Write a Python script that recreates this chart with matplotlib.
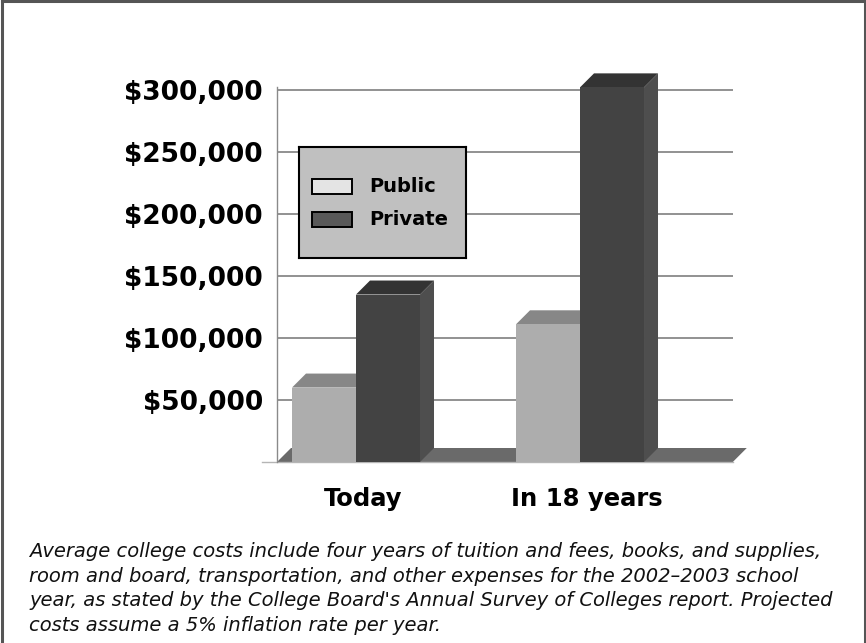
import matplotlib
matplotlib.use('Agg')
import matplotlib.pyplot as plt
from matplotlib.patches import Polygon, Rectangle
from matplotlib.lines import Line2D

categories = ['Today', 'In 18 years']
series_names = ['Public', 'Private']
public_cost = [60000, 111000]
private_cost = [135000, 302000]
tick_values = [50000, 100000, 150000, 200000, 250000, 300000]
tick_labels = ['$50,000', '$100,000', '$150,000', '$200,000', '$250,000', '$300,000']
caption = ("Average college costs include four years of tuition and fees, books, and supplies,\n"
           "room and board, transportation, and other expenses for the 2002\u20132003 school\n"
           "year, as stated by the College Board's Annual Survey of Colleges report. Projected\n"
           "costs assume a 5% inflation rate per year.")

# face colours: front, top, side
face_colors = {
    'Public': ('#adadad', '#878787', '#9a9a9a'),
    'Private': ('#434343', '#333333', '#4e4e4e'),
}
legend_colors = {'Public': '#e4e4e4', 'Private': '#595959'}

W, H = 866, 643
fig = plt.figure(figsize=(W / 100, H / 100), dpi=100)
fig.patch.set_facecolor('white')

# axes box in pixels
ax_left, ax_right, ax_bottom, ax_top = 277, 733, 462, 70
ax = fig.add_axes([ax_left / W, 1 - ax_bottom / H,
                   (ax_right - ax_left) / W, (ax_bottom - ax_top) / H])
xmin, xmax = -0.3527, 1.683
ymax = 316000
ax.set_xlim(xmin, xmax)
ax.set_ylim(0, ymax)

# pixel -> data conversion for the 3D depth offset
px_x = (xmax - xmin) / (ax_right - ax_left)
px_y = ymax / (ax_bottom - ax_top)
dx, dy = 14 * px_x, 14 * px_y
bar_w = 64 * px_x

ax.set_yticks(tick_values)
ax.set_yticklabels(tick_labels, fontsize=19, fontweight='bold')
ax.tick_params(axis='y', length=0, pad=10)
ax.yaxis.grid(True, color='#7f7f7f', linewidth=1.2, zorder=0)
ax.set_axisbelow(True)

ax.set_xticks([i + 0.03 for i in range(len(categories))])
ax.set_xticklabels(categories, fontsize=17.5, fontweight='bold')
ax.tick_params(axis='x', length=0, pad=18)

for side in ['top', 'right', 'bottom']:
    ax.spines[side].set_visible(False)
ax.spines['left'].set_color('#8a8a8a')
ax.spines['left'].set_linewidth(1.0)
ax.spines['left'].set_bounds(0, 302000)

# floor
floor_right = xmax - 0.001
ax.add_patch(Polygon([(xmin, 0), (xmin + dx, dy), (floor_right + dx, dy), (floor_right, 0)],
                     closed=True, facecolor='#6a6a6a', edgecolor='none', zorder=1, clip_on=False))
ax.plot([xmin - 15 * px_x, floor_right], [0, 0], color='#b5b5b5', lw=1, zorder=1.5, clip_on=False)


def bar3d(x0, h, name):
    front, top, side = face_colors[name]
    x1 = x0 + bar_w
    ax.add_patch(Polygon([(x1, 0), (x1 + dx, dy), (x1 + dx, h + dy), (x1, h)],
                         closed=True, facecolor=side, edgecolor='none', zorder=2, clip_on=False))
    ax.add_patch(Polygon([(x0, h), (x0 + dx, h + dy), (x1 + dx, h + dy), (x1, h)],
                         closed=True, facecolor=top, edgecolor='none', zorder=2, clip_on=False))
    ax.add_patch(Rectangle((x0, 0), bar_w, h, facecolor=front, edgecolor='none', zorder=2))


for i in range(len(categories)):
    bar3d(i - bar_w, public_cost[i], 'Public')
    bar3d(i, private_cost[i], 'Private')

# legend box
leg_ax = fig.add_axes([299 / W, 1 - 258 / H, (466 - 299) / W, (258 - 147) / H])
leg_ax.set_xlim(0, 167)
leg_ax.set_ylim(111, 0)
leg_ax.set_xticks([])
leg_ax.set_yticks([])
leg_ax.set_facecolor('#c0c0c0')
for s in leg_ax.spines.values():
    s.set_linewidth(1.5)
    s.set_color('black')
for k, name in enumerate(series_names):
    y0 = 32 + k * 32.5
    leg_ax.add_patch(Rectangle((13, y0), 40, 15, facecolor=legend_colors[name],
                               edgecolor='black', linewidth=1.4))
    leg_ax.text(70, y0 + 7.5, name, fontsize=14, fontweight='bold', va='center', ha='left')

# caption
fig.text(29 / W, 1 - 542 / H, caption, fontsize=14, style='italic', va='top', ha='left',
         linespacing=1.38, color='#111111')

# frame on top, left and right
for xs, ys in [([0.002, 0.002], [0, 0.998]), ([0.002, 0.999], [0.998, 0.998]), ([0.999, 0.999], [0, 0.998])]:
    fig.add_artist(Line2D(xs, ys, color='#555555', lw=2.2, transform=fig.transFigure))

fig.savefig('out.png', dpi=100)
